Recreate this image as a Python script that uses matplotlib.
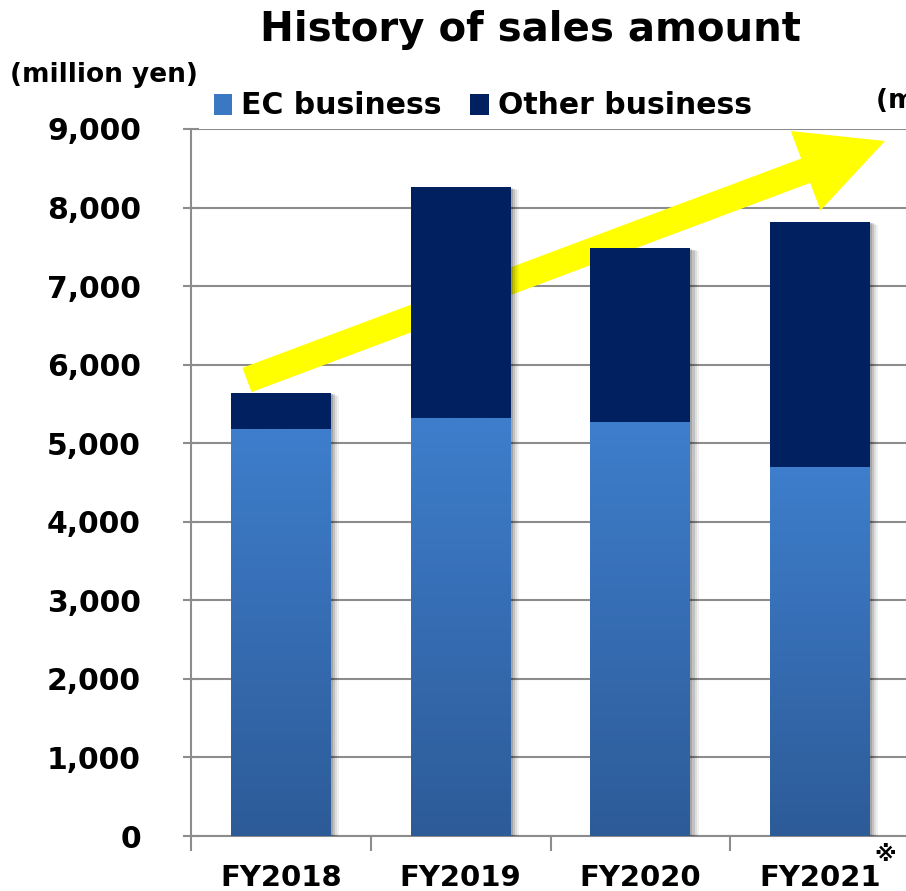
"""History of sales amount: stacked bars (EC vs other business), FY2018-FY2021."""

import matplotlib

matplotlib.use("Agg")
import matplotlib.pyplot as plt
import matplotlib.patheffects as pe
import numpy as np
from matplotlib.patches import Patch
from matplotlib.ticker import FuncFormatter, MultipleLocator

years = ["FY2018", "FY2019", "FY2020", "FY2021"]
ec_sales = [5180, 5320, 5270, 4700]
other_sales = [460, 2940, 2210, 3115]
series_labels = ["EC business", "Other business"]
y_ticks = list(range(0, 9001, 1000))

EC_TOP = "#3E7ECC"
EC_BOTTOM = "#2D5B98"
OTHER = "#002060"
GRID = "#8C8C8C"
FONT = ["DejaVu Sans", "Noto Sans CJK JP"]

plt.rcParams["font.family"] = FONT
plt.rcParams["font.weight"] = "bold"

W, H = 906, 891
fig = plt.figure(figsize=(W / 100, H / 100), dpi=100)
ax = fig.add_axes([191 / W, 55 / H, 719 / W, 707 / H])

x = np.arange(len(years))
bar_w = 0.556
# soft shadow on the right side of each bar
shadow = [pe.SimplePatchShadow(offset=(d, -d / 3), shadow_rgbFace="#000000", alpha=a)
          for d, a in ((6, 0.06), (4.5, 0.08), (3, 0.12), (1.5, 0.15))] + [pe.Normal()]

ec_bars = ax.bar(x, ec_sales, width=bar_w, color=EC_TOP, zorder=3, path_effects=shadow)
ax.bar(x, other_sales, bottom=ec_sales, width=bar_w, color=OTHER, zorder=3, path_effects=shadow)

# vertical gradient on the EC part of each bar
grad = np.linspace(0, 1, 256).reshape(-1, 1)
cmap = matplotlib.colors.LinearSegmentedColormap.from_list("ec", [EC_BOTTOM, EC_TOP])
for rect in ec_bars:
    x0, w, h = rect.get_x(), rect.get_width(), rect.get_height()
    im = ax.imshow(grad, cmap=cmap, origin="lower", aspect="auto",
                   extent=[x0, x0 + w, 0, h], zorder=3.5)
    im.set_clip_path(rect)

ax.set_xlim(-0.5, len(years) - 0.5)
ax.set_ylim(0, 9000)
ax.set_yticks(y_ticks)
ax.yaxis.set_major_formatter(FuncFormatter(lambda v, _: f"{v:,.0f}"))
ax.set_xticks(x)
ax.set_xticklabels(years)
ax.xaxis.set_minor_locator(MultipleLocator(1, offset=0.5))

ax.grid(axis="y", color=GRID, linewidth=1.5, zorder=0)
ax.set_axisbelow(True)
for side in ("top", "right"):
    ax.spines[side].set_visible(False)
for side in ("left", "bottom"):
    ax.spines[side].set_color(GRID)
    ax.spines[side].set_linewidth(1.5)

ax.tick_params(axis="y", direction="inout", length=12, width=1.5, color=GRID,
               labelsize=21.5, pad=30)
ax.tick_params(axis="x", which="major", length=0, labelsize=21, pad=20)
ax.tick_params(axis="x", which="minor", direction="out", length=11, width=1.5, color=GRID)
for lbl in ax.get_xticklabels() + ax.get_yticklabels():
    lbl.set_fontweight("bold")

# growth arrow (figure pixels, drawn behind the bars)
ax.annotate("", xy=(885, H - 141), xytext=(247, H - 380),
            xycoords="figure pixels", textcoords="figure pixels",
            arrowprops=dict(arrowstyle="simple,tail_width=18.7,head_width=61,head_length=61",
                            mutation_scale=1, color="#FFFF00", shrinkA=0, shrinkB=0, lw=0),
            annotation_clip=False, zorder=2)

fig.text(530 / W, 1 - 30 / H, "History of sales amount", ha="center", va="center",
         fontsize=29, fontweight="bold")
fig.text(10 / W, 1 - 75 / H, "(million yen)", ha="left", va="center", fontsize=19,
         fontweight="bold")
# second axis caption, cut by the right edge as in the source slide
fig.text(876 / W, 1 - 101 / H, "(million yen)", ha="left", va="center", fontsize=19,
         fontweight="bold")
fig.text(885 / W, 1 - 855 / H, "\u203b", ha="center", va="center", fontsize=16, family=FONT)

handles = [Patch(facecolor="#3A78C4"), Patch(facecolor=OTHER)]
fig.legend(handles, series_labels, loc="center left", bbox_to_anchor=(199 / W, 1 - 106 / H),
           ncol=2, frameon=False, handlelength=0.62, handleheight=0.7,
           handletextpad=0.3, columnspacing=0.95, borderpad=0,
           prop={"weight": "bold", "size": 21.5})

fig.savefig("out.png", dpi=100)
